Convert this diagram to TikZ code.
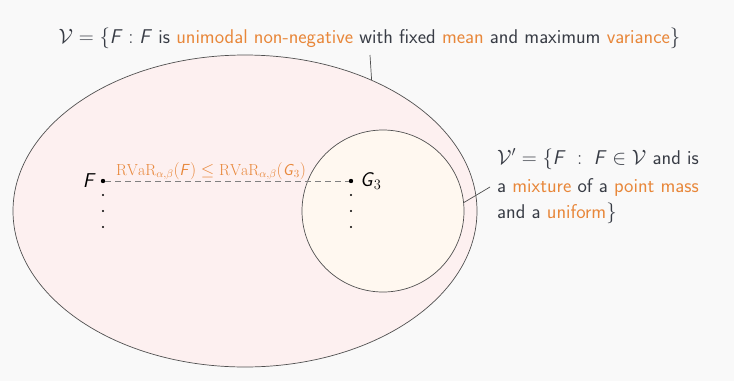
\documentclass[tikz,border=0pt]{standalone}
\usepackage{fontspec}
\usetikzlibrary{shapes.geometric}
\definecolor{bg}{HTML}{F9F9F9}
\definecolor{txt}{HTML}{383C45}
\definecolor{hl}{HTML}{E8873A}
\definecolor{outerfill}{HTML}{FDF0F0}
\definecolor{innerfill}{HTML}{FFF8F0}
\definecolor{edge}{HTML}{505050}
\newcommand{\sfF}{\textsf{\textit{F}}}
\newcommand{\sfG}{\textsf{\textit{G}}}
\newcommand{\hlt}[1]{\textcolor{hl}{#1}}
\tikzset{
  lbl/.style={font=\sffamily\fontsize{19.9}{23}\selectfont, text=txt, inner sep=0pt},
  ptlbl/.style={font=\sffamily\fontsize{20}{23}\selectfont, text=black, inner sep=0pt},
  bigdot/.style={circle, fill=black, inner sep=0pt, minimum size=4.4pt},
  smalldot/.style={circle, fill=black, inner sep=0pt, minimum size=2.4pt},
  leader/.style={draw=edge, line width=0.7pt}
}
\begin{document}
\begin{tikzpicture}[x=1pt,y=-1pt]
  \fill[bg] (0,0) rectangle (734,381);
  \useasboundingbox (0,0) rectangle (734,381);
  % sets
  \node[ellipse, draw=edge, fill=outerfill, line width=0.7pt, inner sep=0pt,
        minimum width=464pt, minimum height=312pt] (outer) at (245,211) {};
  \node[circle, draw=edge, fill=innerfill, line width=0.7pt, inner sep=0pt,
        minimum size=162pt] (inner) at (383,211) {};
  % top text
  \node[lbl, anchor=base] (toptext) at (369.5,43)
    {$\mathcal{V}=\{\sfF : \sfF$ is \hlt{unimodal non-negative} with fixed \hlt{mean} and maximum \hlt{variance}$\}$};
  \coordinate (topc) at (370,55);
  \draw[leader] (topc) -- (outer.46.3);
  % right text
  \node[lbl, anchor=base west] (r1) at (497,164)
    {$\mathcal{V}' = \{\sfF \;:\; \sfF \in \mathcal{V}$ and is};
  \node[lbl, anchor=base west] (r2) at (497,192)
    {a \hlt{mixture} of a \hlt{point mass}};
  \node[lbl, anchor=base west] (r3) at (497,218)
    {and a \hlt{uniform}$\}$};
  \coordinate (rc) at (490,187);
  \draw[leader] (rc) -- (inner.6.3);
  % points
  \node[bigdot] (F) at (103,181) {};
  \node[bigdot] (G) at (351,181) {};
  \node[ptlbl, anchor=east] (Flab) at ([xshift=-7pt]F.center) {\sfF};
  \node[ptlbl, anchor=west] (Glab) at ([xshift=9pt]G.center) {\sfG$_3$};
  \foreach \i/\y in {1/195,2/211,3/227} {
    \node[smalldot] (Fd\i) at (103,\y) {};
    \node[smalldot] (Gd\i) at (351,\y) {};
  }
  \draw[draw=gray, line width=0.7pt, dash pattern=on 6pt off 4pt] (F) -- (G);
  \node[anchor=base, inner sep=0pt, text=hl, font=\fontsize{16}{18}\selectfont] (rvar) at (211,175)
    {$\mathrm{RVaR}_{\alpha,\beta}(\mbox{\sfF}) \le \mathrm{RVaR}_{\alpha,\beta}(\mbox{\sfG}_3)$};
\end{tikzpicture}
\end{document}
